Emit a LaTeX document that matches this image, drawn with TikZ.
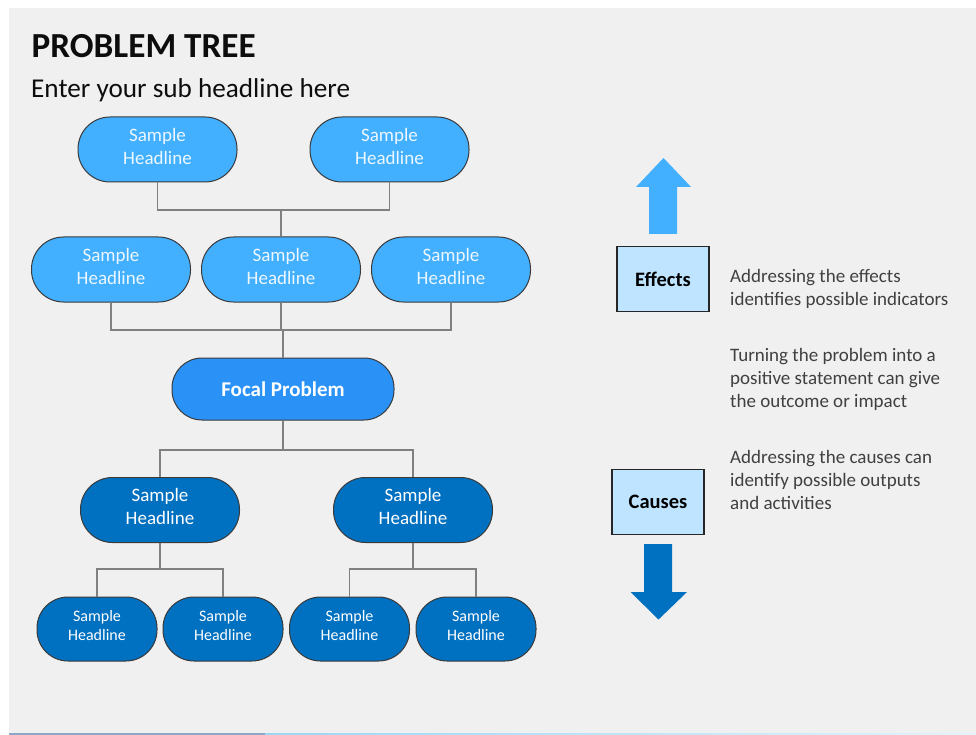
\documentclass[tikz,border=0pt]{standalone}
\usepackage{fontspec}
\setmainfont{Carlito}
\usetikzlibrary{calc}

\definecolor{slidebg}{HTML}{F0F0F0}
\definecolor{effectblue}{HTML}{42AFFF}
\definecolor{focalblue}{HTML}{2A92F7}
\definecolor{causeblue}{HTML}{0070C0}
\definecolor{boxblue}{HTML}{BFE4FF}
\definecolor{wire}{HTML}{808080}
\definecolor{bodytext}{HTML}{404040}
\definecolor{pilledge}{HTML}{3A3A3A}
\definecolor{barleft}{HTML}{8FA7C6}
\definecolor{barmid}{HTML}{9DD6F3}
\definecolor{barright}{HTML}{E2F3FB}

\tikzset{
  pill/.style={draw=pilledge, line width=1pt, rounded corners=32pt,
    minimum width=159pt, minimum height=65pt, inner sep=0pt,
    align=center, text=white, font=\fontsize{19}{23}\selectfont},
  lifted/.style={execute at end node={\rule[-#1]{0pt}{0pt}}},
  effectpill/.style={pill, lifted=7pt, fill=effectblue, text=white!90!effectblue},
  causepill/.style={pill, lifted=7pt, fill=causeblue},
  smallpill/.style={pill, lifted=8pt, fill=causeblue, rounded corners=31pt,
    minimum width=120pt, minimum height=64pt, font=\fontsize{16}{19}\selectfont},
  focalpill/.style={pill, fill=focalblue, rounded corners=30pt,
    minimum width=222pt, minimum height=62pt,
    font=\fontsize{21}{25}\selectfont\bfseries},
  wire/.style={draw=wire, line width=1.3pt},
  labelbox/.style={draw=black!85, line width=1.3pt, fill=boxblue,
    minimum width=92pt, minimum height=65pt, inner sep=0pt,
    font=\fontsize{20.5}{24}\selectfont\bfseries},
  note/.style={anchor=west, align=left, inner sep=0pt, text=bodytext,
    font=\fontsize{19}{23}\selectfont}
}

\begin{document}
\begin{tikzpicture}[x=1pt,y=1pt]
  % page and slide background
  \useasboundingbox (0,0) rectangle (976,-735);
  \fill[white] (0,0) rectangle (976,-735);
  \fill[slidebg] (9,-8) rectangle (976,-733);
  \fill[barleft] (9,-733) rectangle (265,-735);
  \shade[left color=barmid, right color=barright] (265,-733) rectangle (976,-735);

  % headings
  \node[anchor=base west, inner sep=0pt, text=black!95,
        font=\fontsize{35.2}{42}\selectfont\bfseries] (title) at (31.5,-58) {PROBLEM TREE};
  \node[anchor=base west, inner sep=0pt, text=black!95,
        font=\fontsize{27.2}{32}\selectfont] (subtitle) at (31,-98) {Enter your sub headline here};

  % effects: top two levels
  \node[effectpill] (t1) at (157.5,-149.5) {Sample\\Headline};
  \node[effectpill] (t2) at (389.5,-149.5) {Sample\\Headline};
  \node[effectpill] (m1) at (111,-269.5) {Sample\\Headline};
  \node[effectpill] (m2) at (281,-269.5) {Sample\\Headline};
  \node[effectpill] (m3) at (451,-269.5) {Sample\\Headline};

  % focal problem
  \node[focalpill] (f) at (283,-389) {Focal Problem};

  % causes: bottom two levels
  \node[causepill] (c1) at (160,-510) {Sample\\Headline};
  \node[causepill] (c2) at (413,-510) {Sample\\Headline};
  \node[smallpill] (l1) at (97,-629) {Sample\\Headline};
  \node[smallpill] (l2) at (223,-629) {Sample\\Headline};
  \node[smallpill] (l3) at (349.5,-629) {Sample\\Headline};
  \node[smallpill] (l4) at (476,-629) {Sample\\Headline};

  % tree connectors
  \coordinate (j1) at (281,-210);
  \coordinate (j2) at (283,-330);
  \coordinate (j3) at (283,-450);
  \coordinate (j4) at (160,-569);
  \coordinate (j5) at (413,-569);

  \draw[wire] (t1.south) |- (j1) -| (t2.south);
  \draw[wire] (j1) -- (m2.north);
  \draw[wire] (m1.south) |- (j2) -| (m3.south);
  \draw[wire] (m2.south) -- (m2.south |- j2);
  \draw[wire] (j2) -- (f.north);
  \draw[wire] (f.south) -- (j3);
  \draw[wire] (c1.north) |- (j3) -| (c2.north);
  \draw[wire] (c1.south) -- (j4);
  \draw[wire] (l1.north) |- (j4) -| (l2.north);
  \draw[wire] (c2.south) -- (j5);
  \draw[wire] (l3.north) |- (j5) -| (l4.north);

  % direction arrows
  \fill[effectblue] (649,-234) -- (649,-187) -- (636,-187) -- (663.5,-158)
    -- (691,-187) -- (677,-187) -- (677,-234) -- cycle;
  \fill[causeblue] (644,-544) -- (672,-544) -- (672,-592) -- (687,-592)
    -- (658.5,-619.5) -- (630.5,-592) -- (644,-592) -- cycle;

  % legend boxes
  \node[labelbox] (effects) at (663,-279) {Effects};
  \node[labelbox] (causes) at (658,-502) {Causes};

  % explanatory notes
  \node[note] (n1) at (730,-289) {Addressing the effects\\identifies possible indicators};
  \node[note] (n2) at (730,-379.5) {Turning the problem into a\\positive statement can give\\the outcome or impact};
  \node[note] (n3) at (730,-479.5) {Addressing the causes can\\identify possible outputs\\and activities};
\end{tikzpicture}
\end{document}
